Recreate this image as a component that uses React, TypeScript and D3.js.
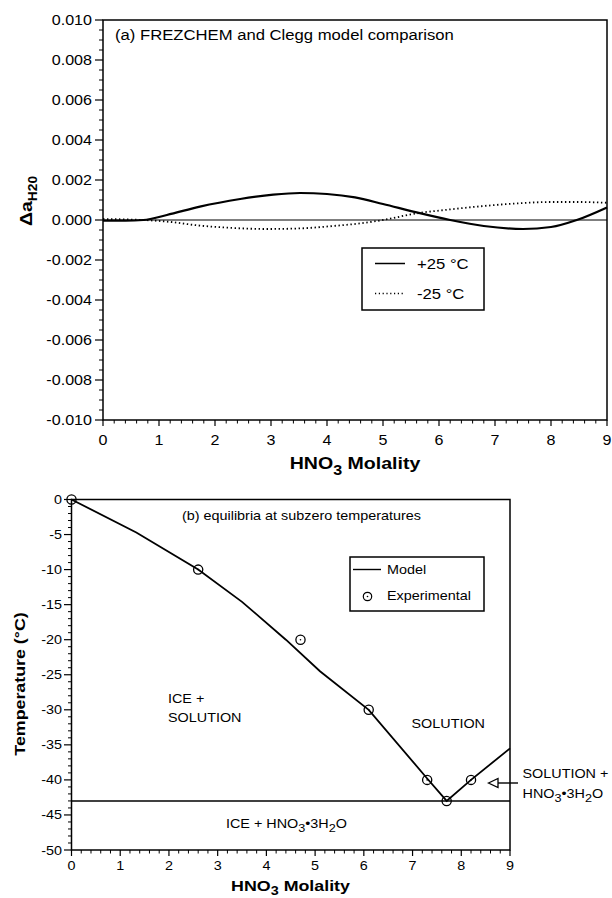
import React from 'react';
import * as d3 from 'd3';

// panel (a): difference in water activity, FREZCHEM minus Clegg model
const molA = [0, 0.4, 0.72, 1.14, 1.73, 2.45, 3.04, 3.52, 4.0, 4.5, 5.0, 5.6, 6.2, 6.8, 7.5, 8.0, 8.46, 9.0];
const plus25 = [-0.00003, -0.00003, 0, 0.00025, 0.00067, 0.00105, 0.00127, 0.00135, 0.0013, 0.00113, 0.0008, 0.00038, 0, -0.0003, -0.00045, -0.00035, 0, 0.00063];
const molA2 = [0, 0.4, 0.72, 1.14, 1.73, 2.33, 2.92, 3.52, 4.11, 4.59, 5.0, 5.6, 6.2, 6.8, 7.4, 8.0, 8.5, 9.0];
const minus25 = [0.00005, 0.00003, 0, -0.00008, -0.00028, -0.0004, -0.00045, -0.00042, -0.0003, -0.00017, 0, 0.00033, 0.00053, 0.0007, 0.00083, 0.0009, 0.0009, 0.00086];

// panel (b): freezing / eutectic curve
const modelMol = [0, 1.33, 2.6, 3.5, 4.4, 5.1, 6.1, 7.3, 7.7, 8.2, 9.0];
const modelT = [0, -4.7, -10, -14.6, -20, -24.5, -30, -39.8, -43, -40, -35.5];
const expMol = [0, 2.6, 4.7, 6.1, 7.3, 7.7, 8.2];
const expT = [0, -10, -20, -30, -40, -43, -40];
const eutecticT = -43;

const FONT = 'Liberation Sans, Arial, Helvetica, sans-serif';
const S = 1.15; // the scanned figure's type is a bit wide

function T({x, y, size, anchor = 'start', bold = false, rotate = 0, children}: any) {
    return (
        <text
            transform={`translate(${x},${y})${rotate ? ` rotate(${rotate})` : ''} scale(${S},1)`}
            fontSize={size}
            fontWeight={bold ? 'bold' : 'normal'}
            textAnchor={anchor}
            fontFamily={FONT}
            fill="#000"
        >
            {children}
        </text>
    );
}

const fmt = (v: number, f: (n: number) => string) => f(v).replace('\u2212', '-');

export default function App() {
    // ---------- panel a ----------
    const xA = d3.scaleLinear().domain([0, 9]).range([103, 607]);
    const yA = d3.scaleLinear().domain([-0.01, 0.01]).range([420, 20]);
    const fA = d3.format('.3f');

    const lineA = d3.line<[number, number]>()
        .x((d) => xA(d[0]))
        .y((d) => yA(d[1]))
        .curve(d3.curveMonotoneX);

    const ptsPlus = molA.map((m, i) => [m, plus25[i]] as [number, number]);
    const ptsMinus = molA2.map((m, i) => [m, minus25[i]] as [number, number]);

    const xMinorA = d3.range(0, 46).map((i) => i * 0.2).filter((_, i) => i % 5 !== 0);
    const yMinorA = d3.range(0, 41).map((i) => -0.01 + i * 0.0005).filter((_, i) => i % 4 !== 0);

    // ---------- panel b ----------
    const xB = d3.scaleLinear().domain([0, 9]).range([71.5, 510]);
    const yB = d3.scaleLinear().domain([-50, 0]).range([850, 499.5]);

    const lineB = d3.line<number>()
        .x((d) => xB(d))
        .y((_, i) => yB(modelT[i]));

    const xMinorB = d3.range(0, 46).map((i) => i * 0.2).filter((_, i) => i % 5 !== 0);
    const yMinorB = d3.range(-50, 1).filter((v) => v % 5 !== 0);

    const arrowY = 783;

    return (
        <svg width={612} height={898} style={{position: 'absolute', left: 0, top: 0, background: '#fff'}}>
            {/* ===== panel (a) ===== */}
            <rect x={xA(0)} y={yA(0.01)} width={xA(9) - xA(0)} height={yA(-0.01) - yA(0.01)}
                  fill="none" stroke="#000" strokeWidth={1.5}/>
            <line x1={xA(0)} x2={xA(9)} y1={yA(0)} y2={yA(0)} stroke="#000" strokeWidth={1.2}/>

            {xA.ticks(9).map((t) => (
                <g key={'xa' + t}>
                    <line x1={xA(t)} x2={xA(t)} y1={420} y2={426} stroke="#000" strokeWidth={1.2}/>
                    <T x={xA(t)} y={445} size={14} anchor="middle">{t}</T>
                </g>
            ))}
            {xMinorA.map((t) => (
                <line key={'xam' + t} x1={xA(t)} x2={xA(t)} y1={420} y2={423.5} stroke="#000" strokeWidth={1}/>
            ))}
            {yA.ticks(10).map((t) => (
                <g key={'ya' + t}>
                    <line x1={95} x2={103} y1={yA(t)} y2={yA(t)} stroke="#000" strokeWidth={1.2}/>
                    <T x={92} y={yA(t) + 5} size={14} anchor="end">{fmt(t, fA)}</T>
                </g>
            ))}
            {yMinorA.map((t) => (
                <line key={'yam' + t} x1={99} x2={103} y1={yA(t)} y2={yA(t)} stroke="#000" strokeWidth={1}/>
            ))}

            <path d={lineA(ptsPlus) || ''} fill="none" stroke="#000" strokeWidth={2.2}/>
            <path d={lineA(ptsMinus) || ''} fill="none" stroke="#000" strokeWidth={1.8} strokeDasharray="1.4 2.6"/>

            <T x={115} y={40} size={14.5}>(a) FREZCHEM and Clegg model comparison</T>

            <rect x={362} y={248} width={122} height={62} fill="#fff" stroke="#000" strokeWidth={1.5}/>
            <line x1={375} x2={405} y1={263.5} y2={263.5} stroke="#000" strokeWidth={1.5}/>
            <line x1={375} x2={405} y1={293.5} y2={293.5} stroke="#000" strokeWidth={1.4} strokeDasharray="1.2 2.6"/>
            <T x={417} y={268.5} size={14.5}>+25 °C</T>
            <T x={417} y={298.5} size={14.5}>-25 °C</T>

            <T x={355} y={469} size={17} anchor="middle" bold>
                HNO<tspan fontSize={14} dy={6}>3</tspan><tspan dy={-6}> Molality</tspan>
            </T>
            <T x={32} y={201} size={17} anchor="middle" bold rotate={-90}>
                Δa<tspan fontSize={12} dy={5}>H20</tspan>
            </T>

            {/* ===== panel (b) ===== */}
            <rect x={xB(0)} y={yB(0)} width={xB(9) - xB(0)} height={yB(-50) - yB(0)}
                  fill="none" stroke="#000" strokeWidth={1.5}/>
            <line x1={xB(0)} x2={xB(9)} y1={yB(eutecticT)} y2={yB(eutecticT)} stroke="#000" strokeWidth={1.5}/>

            {xB.ticks(9).map((t) => (
                <g key={'xb' + t}>
                    <line x1={xB(t)} x2={xB(t)} y1={850} y2={856} stroke="#000" strokeWidth={1.2}/>
                    <T x={xB(t)} y={870} size={12.5} anchor="middle">{t}</T>
                </g>
            ))}
            {xMinorB.map((t) => (
                <line key={'xbm' + t} x1={xB(t)} x2={xB(t)} y1={850} y2={853.5} stroke="#000" strokeWidth={1}/>
            ))}
            {yB.ticks(10).map((t) => (
                <g key={'yb' + t}>
                    <line x1={64} x2={71.5} y1={yB(t)} y2={yB(t)} stroke="#000" strokeWidth={1.2}/>
                    <T x={62} y={yB(t) + 4.5} size={12.5} anchor="end">{String(t)}</T>
                </g>
            ))}
            {yMinorB.map((t) => (
                <line key={'ybm' + t} x1={68} x2={71.5} y1={yB(t)} y2={yB(t)} stroke="#000" strokeWidth={1}/>
            ))}

            <path d={lineB(modelMol) || ''} fill="none" stroke="#000" strokeWidth={1.8}/>
            {expMol.map((m, i) => (
                <g key={'e' + i}>
                    <circle cx={xB(m)} cy={yB(expT[i])} r={4.6} fill="none" stroke="#000" strokeWidth={1.3}/>
                    <circle cx={xB(m)} cy={yB(expT[i])} r={0.8} fill="#000"/>
                </g>
            ))}

            <T x={182} y={520} size={12.5}>(b) equilibria at subzero temperatures</T>

            <rect x={350} y={557} width={134} height={54} fill="#fff" stroke="#000" strokeWidth={1.5}/>
            <line x1={353} x2={381} y1={569.5} y2={569.5} stroke="#000" strokeWidth={1.4}/>
            <circle cx={367.5} cy={596.5} r={4.2} fill="none" stroke="#000" strokeWidth={1.2}/>
            <circle cx={367.5} cy={596.5} r={0.8} fill="#000"/>
            <T x={387} y={574} size={12.5}>Model</T>
            <T x={387} y={600} size={12.5}>Experimental</T>

            <T x={168} y={702.5} size={12.5}>ICE +</T>
            <T x={168} y={722} size={12.5}>SOLUTION</T>
            <T x={411.5} y={728} size={12.5}>SOLUTION</T>
            <T x={226} y={828} size={12.5}>
                ICE + HNO<tspan fontSize={11} dy={4}>3</tspan><tspan dy={-4}>•3H</tspan>
                <tspan fontSize={11} dy={4}>2</tspan><tspan dy={-4}>O</tspan>
            </T>
            <T x={522.5} y={778} size={12.5}>SOLUTION +</T>
            <T x={522.5} y={798} size={12.5}>
                HNO<tspan fontSize={11} dy={4}>3</tspan><tspan dy={-4}>•3H</tspan>
                <tspan fontSize={11} dy={4}>2</tspan><tspan dy={-4}>O</tspan>
            </T>
            <line x1={497} x2={518} y1={arrowY} y2={arrowY} stroke="#000" strokeWidth={1.4}/>
            <path d={`M488.5,${arrowY} L498,${arrowY - 4.5} L498,${arrowY + 4.5} Z`} fill="#fff" stroke="#000" strokeWidth={1.3}/>

            <T x={290.5} y={891} size={15.5} anchor="middle" bold>
                HNO<tspan fontSize={12.5} dy={3.5}>3</tspan><tspan dy={-3.5}> Molality</tspan>
            </T>
            <T x={25} y={684} size={15.5} anchor="middle" bold rotate={-90}>Temperature (°C)</T>
        </svg>
    );
}
